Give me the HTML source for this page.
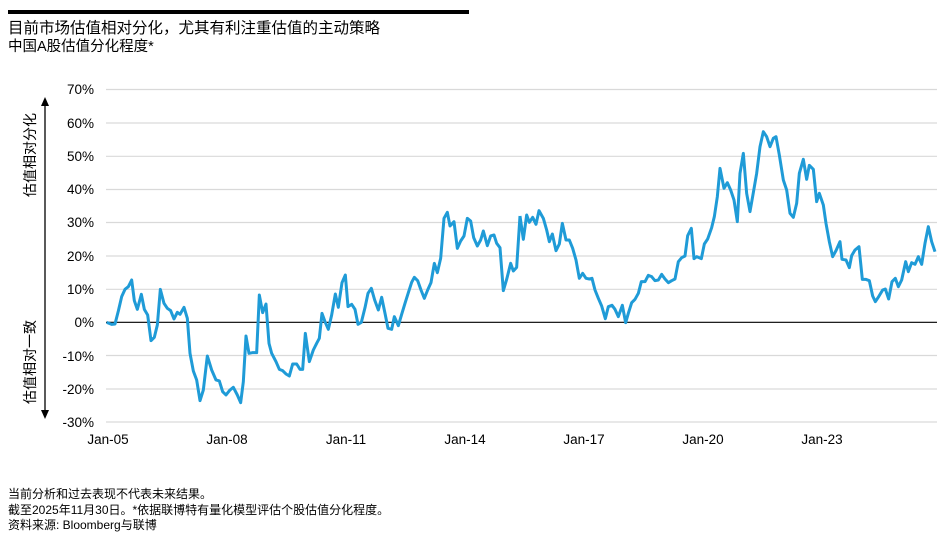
<!DOCTYPE html>
<html><head><meta charset="utf-8"><style>
html,body{margin:0;padding:0;background:#fff;}
body{width:951px;height:540px;overflow:hidden;font-family:"Liberation Sans","Noto Sans CJK SC",sans-serif;}
</style></head><body>
<svg width="951" height="540" viewBox="0 0 951 540" xmlns="http://www.w3.org/2000/svg" font-family="Liberation Sans, Noto Sans CJK SC, sans-serif">
<rect x="8" y="10" width="461" height="4" fill="#000"/>
<text x="8" y="33" font-size="15.5" fill="#000">目前市场估值相对分化，尤其有利注重估值的主动策略</text>
<text x="8" y="51" font-size="14.5" fill="#000">中国A股估值分化程度*</text>
<g stroke="#d9d9d9" stroke-width="1.2">
<line x1="106" x2="937" y1="89.5" y2="89.5"/>
<line x1="106" x2="937" y1="123" y2="123"/>
<line x1="106" x2="937" y1="156.3" y2="156.3"/>
<line x1="106" x2="937" y1="189.5" y2="189.5"/>
<line x1="106" x2="937" y1="222.5" y2="222.5"/>
<line x1="106" x2="937" y1="256" y2="256"/>
<line x1="106" x2="937" y1="289.3" y2="289.3"/>
<line x1="106" x2="937" y1="355.5" y2="355.5"/>
<line x1="106" x2="937" y1="389" y2="389"/>
<line x1="106" x2="937" y1="422" y2="422"/>
</g>
<g font-size="13.5" fill="#000" text-anchor="end">
<text x="94" y="94">70%</text><text x="94" y="128">60%</text><text x="94" y="161">50%</text>
<text x="94" y="194">40%</text><text x="94" y="227">30%</text><text x="94" y="261">20%</text>
<text x="94" y="294">10%</text><text x="94" y="327">0%</text><text x="94" y="361">-10%</text>
<text x="94" y="394">-20%</text><text x="94" y="427">-30%</text>
</g>
<g font-size="13.5" fill="#000" text-anchor="middle">
<text x="108" y="444">Jan-05</text><text x="227" y="444">Jan-08</text><text x="346" y="444">Jan-11</text>
<text x="465" y="444">Jan-14</text><text x="584" y="444">Jan-17</text><text x="703" y="444">Jan-20</text><text x="822" y="444">Jan-23</text>
</g>
<line x1="45" x2="45" y1="104" y2="412" stroke="#000" stroke-width="1.3"/>
<polygon points="41,106 49,106 45,97" fill="#000"/>
<polygon points="41,410 49,410 45,419" fill="#000"/>
<text transform="translate(35,155) rotate(-90)" font-size="14" text-anchor="middle" fill="#000">估值相对分化</text>
<text transform="translate(35,362) rotate(-90)" font-size="14" text-anchor="middle" fill="#000">估值相对一致</text>
<line x1="106" x2="937" y1="322.3" y2="322.3" stroke="#000" stroke-width="1.2"/>
<g fill="none" stroke="#1f9bd7" stroke-width="3" stroke-linejoin="round">
<polyline transform="translate(100,80) scale(0.33333)" vector-effect="non-scaling-stroke" points="20,727 35,733 45,732 55,693 65,650 75,628 85,620 95,600 103,662 112,688 124,643 133,688 143,705 153,782 163,772 172,735 181,628 192,670 202,685 212,692 222,717 232,697 240,703 252,682 262,715 270,820 280,873 290,900 300,962 310,930 322,828 335,870 348,900 358,903 368,935 378,945 390,930 400,922 412,945 422,968 430,905 438,768 447,820 457,818 470,818 478,645 488,698 498,672 507,790 515,820 528,845 538,868 548,872 558,882 568,888 578,852 590,852 600,868 608,868 616,760 628,845 640,810 650,790 658,775 666,700 675,725 685,748 695,705 706,642 715,682 726,608 736,585 744,680 755,673 765,688 774,733 784,727 795,683 804,640 814,625 824,660 835,690 845,652 855,700 864,745 875,748 883,710 895,737 905,703 915,670 925,638 935,607 943,592 953,602 963,630 973,655 983,630 993,608 1003,550 1012,578 1022,535 1032,415 1042,397 1050,438 1062,425 1072,505 1082,483 1092,468 1102,415 1112,423 1121,473 1132,498 1142,480 1150,453 1162,497 1172,468 1182,465 1190,490 1200,503 1210,632 1220,598 1232,550 1240,573 1250,562 1260,408"/>
<polyline transform="translate(520,80) scale(0.33333)" vector-effect="non-scaling-stroke" points="0,408 10,478 20,405 28,427 38,412 48,433 57,392 70,415 80,450 88,485 97,462 108,512 118,492 127,430 138,480 148,480 158,505 168,540 178,595 188,580 198,595 208,597 216,595 225,630 235,655 245,678 256,716 265,680 276,676 285,688 295,710 307,676 317,728 325,700 335,668 345,658 355,640 364,605 375,605 385,586 395,590 405,602 415,600 425,583 435,597 445,608 455,602 465,597 475,545 485,533 495,528 503,467 514,445 522,536 530,530 544,536 553,492 563,477 575,443 583,410 592,350 600,265 612,325 622,308 632,330 642,360 652,425 660,280 670,220 680,340 690,395 700,338 710,280 720,200 730,155 740,170 750,200 760,175 768,170 778,225 790,300 800,330 810,400 820,412 830,370 838,280 850,238 860,298 868,256 880,268 890,365 898,340 910,375 918,430 928,485 938,530 948,512 960,485 966,538 978,540 988,563 995,527 1005,510 1017,500 1027,598 1037,598 1048,602 1058,648 1066,665 1076,650 1088,630 1096,627 1106,657 1116,605 1126,595 1135,620 1145,600 1157,545 1165,575 1175,548 1185,553 1195,530 1205,553 1215,490 1225,440 1235,485 1245,515"/>
</g>
<g font-size="12" fill="#000">
<text x="8" y="498">当前分析和过去表现不代表未来结果。</text>
<text x="8" y="514">截至2025年11月30日。*依据联博特有量化模型评估个股估值分化程度。</text>
<text x="8" y="529">资料来源: Bloomberg与联博</text>
</g>
</svg>
</body></html>
